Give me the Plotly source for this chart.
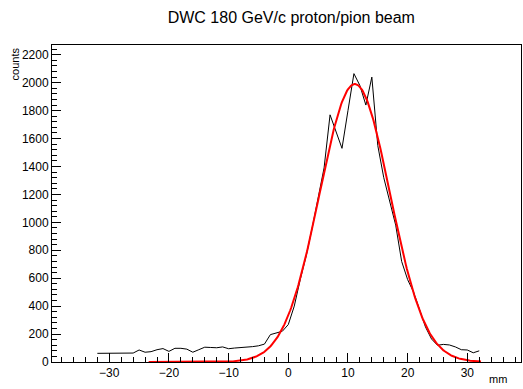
import numpy as np
import plotly.graph_objects as go

# Data: DWC beam profile (bin centre in mm, counts)
positions_mm = list(range(-32, 33))
counts = [62, 63, 64, 64, 64, 64, 64, 86, 70, 74,
          88, 96, 76, 98, 98, 92, 70, 88, 106, 104,
          102, 108, 95, 100, 102, 106, 110, 116, 128, 196,
          210, 220, 268, 400, 590, 760, 960, 1180, 1390, 1770,
          1650, 1530, 1800, 2065, 1980, 1840, 2040, 1550, 1320, 1150,
          980, 720, 590, 500, 375, 250, 165, 120, 126, 122,
          108, 88, 86, 66, 80]

# Gaussian fit parameters
fit_amplitude = 1990.0
fit_mean = 11.15
fit_sigma = 5.9
fit_range = [-23.4, 32.3]

fit_x = np.linspace(fit_range[0], fit_range[1], 400)
fit_y = fit_amplitude * np.exp(-0.5 * ((fit_x - fit_mean) / fit_sigma) ** 2)

font_family = "Liberation Sans, Arial, Helvetica, sans-serif"

fig = go.Figure()
fig.add_trace(go.Scatter(x=positions_mm, y=counts, mode="lines",
                         line=dict(color="black", width=1), showlegend=False,
                         hoverinfo="skip"))
fig.add_trace(go.Scatter(x=fit_x, y=fit_y, mode="lines",
                         line=dict(color="#ff0000", width=2), showlegend=False,
                         hoverinfo="skip"))

axis_common = dict(
    showgrid=False, zeroline=False, showline=True, mirror=True,
    linecolor="black", linewidth=1, ticks="inside", tickcolor="black",
    tickfont=dict(family=font_family, size=12, color="black"),
    automargin=False,
)

fig.update_layout(
    width=523, height=389,
    margin=dict(l=52, r=2, t=45, b=27, autoexpand=False),
    paper_bgcolor="white", plot_bgcolor="white",
    title=dict(text="DWC 180 GeV/c proton/pion beam", x=0.557, xanchor="center",
               y=0.955, yanchor="middle",
               font=dict(family=font_family, size=16, color="black")),
    xaxis=dict(range=[-39.6, 39.0], tickvals=[-30, -20, -10, 0, 10, 20, 30],
               ticklen=9, minor=dict(ticks="inside", ticklen=5, dtick=2, tick0=0,
                                     tickcolor="black", showgrid=False),
               **axis_common),
    yaxis=dict(range=[0, 2270], tickvals=list(range(0, 2201, 200)),
               ticklen=9, minor=dict(ticks="inside", ticklen=5, dtick=40, tick0=0,
                                     tickcolor="black", showgrid=False),
               **axis_common),
    annotations=[
        dict(text="mm", xref="paper", yref="paper", x=0.974, y=-0.027,
             xanchor="right", yanchor="top", showarrow=False,
             font=dict(family=font_family, size=11, color="black")),
        dict(text="counts", xref="paper", yref="paper", x=-0.079, y=1.0,
             xanchor="center", yanchor="top", textangle=-90, showarrow=False,
             font=dict(family=font_family, size=11, color="black")),
    ],
)

fig.write_html("out.html",
               config={"displayModeBar": False},
               post_script="document.body.style.margin='0';document.body.style.overflow='hidden';")
